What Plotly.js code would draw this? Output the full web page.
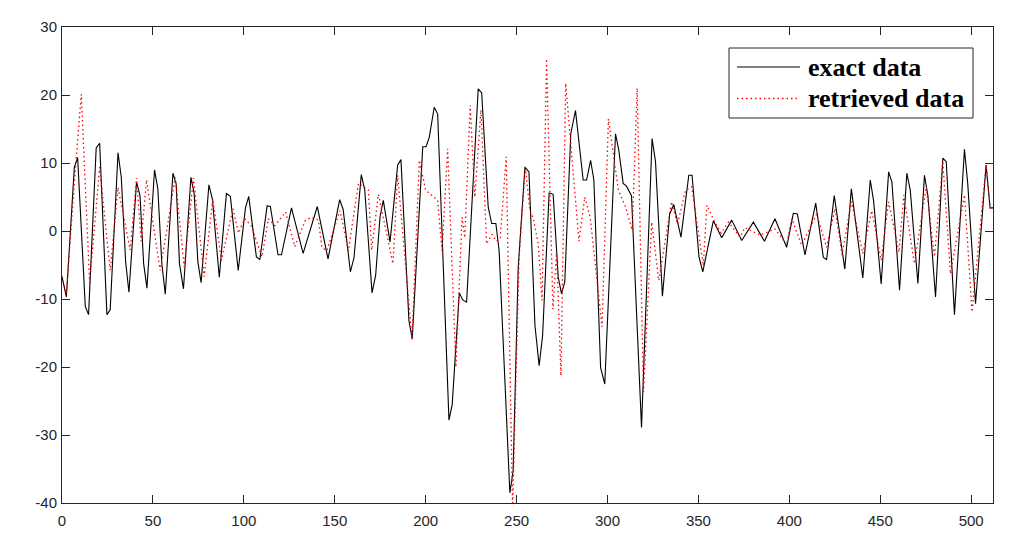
<!DOCTYPE html>
<html>
<head>
<meta charset="utf-8">
<script src="https://cdn.plot.ly/plotly-3.0.1.min.js"></script>
<style>
  html, body { margin: 0; padding: 0; background: #fff; }
  #chart { width: 1016px; height: 556px; }
</style>
</head>
<body>
<div id="chart"></div>
<script>
// ---- data ----
const exactX = [0,2.4,6.8,8.6,12.8,14.6,18.8,20.7,24.7,26.5,30.8,32.6,35.0,36.8,41.0,42.9,44.9,46.7,50.9,52.7,54.9,56.8,61.0,62.8,64.6,66.8,70.9,72.7,74.7,76.5,80.8,82.7,86.5,90.4,92.6,96.9,100.9,102.7,106.9,108.8,112.8,114.6,118.8,120.7,126.2,132.6,140.4,146.3,152.7,154.6,158.6,160.6,164.6,166.5,170.5,172.5,174.9,176.7,180.4,184.6,186.4,190.8,192.6,198.4,200.2,202.0,204.7,206.6,212.8,214.6,218.5,220.3,222.5,228.9,230.8,234.4,236.3,238.6,240.4,246.3,248.1,250.9,254.6,256.8,260.1,262.4,264.3,267.9,270.1,272.9,274.7,276.5,279.8,282.4,286.6,288.5,290.7,292.5,296.2,298.5,304.4,306.2,308.6,310.4,313.2,318.7,324.5,326.4,330.2,334.2,336.4,340.4,344.7,346.5,350.3,352.4,358.2,362.8,368.3,373.8,380.2,386.3,392.1,398.5,402.2,404.4,408.6,414.5,418.7,420.5,424.7,430.5,434.1,440.4,444.5,446.3,450.5,454.6,456.4,460.6,464.6,466.5,470.7,474.3,476.2,480.4,484.4,486.3,490.8,496.3,498.1,502.4,508.2,510.4,512];
const exactY = [-6.7,-9.7,9.4,10.8,-11.1,-12.3,12.2,12.9,-12.3,-11.6,11.5,7.9,-4.5,-9.0,7.2,5.2,-4.8,-8.4,9.0,6.2,-4.8,-9.3,8.5,6.9,-4.8,-8.5,7.9,5.5,-4.5,-7.6,6.8,4.7,-6.8,5.5,5.1,-5.8,3.4,5.1,-3.8,-4.2,3.7,3.6,-3.5,-3.5,3.4,-3.3,3.6,-4.1,4.6,3.2,-6.0,-3.9,8.3,6.0,-9.1,-6.5,2.1,4.5,-1.6,9.7,10.5,-13.2,-15.9,12.4,12.4,13.8,18.2,17.2,-27.8,-25.5,-9.1,-10.1,-10.5,20.9,20.3,3.5,1.1,1.1,-2.9,-38.5,-35.3,-5.3,9.4,8.7,-13.9,-19.8,-15.4,5.6,5.4,-6.8,-9.2,-7.5,14.3,17.7,7.5,7.5,10.4,7.5,-20.1,-22.5,14.3,11.9,7.0,6.6,5.2,-28.9,13.6,10.2,-9.6,2.5,3.9,-0.9,8.2,8.2,-3.8,-6.0,1.5,-1.0,1.6,-1.4,1.3,-1.5,1.8,-2.4,2.6,2.5,-3.5,4.1,-3.9,-4.2,5.2,-5.6,6.2,-6.9,7.5,4.5,-7.8,8.7,7.2,-8.7,8.5,6.0,-7.7,8.2,5.2,-9.7,10.7,10.2,-12.3,12.0,7.0,-10.7,9.7,3.4,3.4];

const retrievedX = [0,2.4,7.3,10.6,15.2,20.7,26.5,30.8,37.5,41.0,43.5,46.5,54.0,62.3,67.2,72.3,78.2,82.9,87.7,94.0,97.0,100.5,104.0,110.0,113.5,117.0,123.0,128.0,133.7,137.0,141.0,142.9,145.6,152.9,157.5,163.0,168.5,170.3,174.0,182.0,184.6,192.5,196.5,200.0,206.6,209.0,212.1,216.6,220.0,221.5,224.5,227.0,230.4,233.5,236.5,239.0,241.0,244.3,247.8,251.4,254.8,257.3,259.1,261.9,264.0,266.5,270.0,272.0,274.4,277.0,284.3,287.5,290.5,297.0,300.5,306.0,310.0,313.6,316.3,319.8,324.3,328.2,335.2,338.5,342.9,346.3,352.7,354.6,359.0,362.5,366.5,372.9,375.6,383.9,392.1,398.5,401.3,406.8,415.0,420.5,425.1,429.0,434.1,440.4,445.3,450.5,454.6,460.3,462.9,468.8,475.3,479.8,484.4,488.6,496.3,500.5,508.2,510.4,512];
const retrievedY = [-6.7,-9.2,8.9,20.1,-7.7,9.4,-5.8,6.4,-2.8,7.8,-1.5,7.5,-5.8,7.9,-5.3,7.8,-6.7,4.7,-4.3,3.3,-0.3,1.8,0.8,-3.8,1.8,0.8,2.8,-2.3,1.5,2.0,1.6,-2.4,-2.9,3.0,-2.9,7.0,6.0,-2.8,5.4,-4.8,8.2,-15.9,10.4,6.0,4.5,-3.0,12.1,-20.0,2.0,-1.0,18.5,5.0,17.8,-1.9,-0.5,-1.5,-1.0,10.9,-41,-3.8,9.5,3.0,2.0,-1.9,-10.2,25.3,-11.5,-3.0,-21.3,21.7,-1.5,5.0,2.0,-14.1,16.5,6.0,3.5,0.1,21.0,-23.7,1.3,-7.3,4.3,1.0,6.0,6.5,-5.1,3.8,1.3,-0.3,1.3,-0.9,0.5,-0.6,0.3,-2.0,1.8,-2.1,2.5,-2.4,3.3,-3.5,4.3,-3.3,3.0,-4.3,4.3,-3.1,5.3,-4.8,6.5,-3.8,10.2,-6.3,5.3,-11.9,9.7,3.4,3.4];

const xTicks = [0,50,100,150,200,250,300,350,400,450,500];
const yTicks = [-40,-30,-20,-10,0,10,20,30];
const seriesNames = ['exact data', 'retrieved data'];

// ---- layout helpers (pixel geometry of the axes box) ----
const L = 62, R = 993, T = 27, B = 503;
const W = 1016, H = 556;
const px = x => (x - L) / (R - L);
const py = y => (B - y) / (B - T);

const axColor = '#262626';
const axisCommon = {
  showline: true, linecolor: axColor, linewidth: 1,
  mirror: 'ticks', ticks: 'inside', ticklen: 8, tickwidth: 1, tickcolor: axColor,
  showgrid: false, zeroline: false,
  tickfont: {family: 'Liberation Sans, Arial, sans-serif', size: 15, color: axColor}
};

const traces = [
  {x: exactX, y: exactY, type: 'scatter', mode: 'lines', name: seriesNames[0],
   line: {color: '#000000', width: 1.1}, showlegend: false},
  {x: retrievedX, y: retrievedY, type: 'scatter', mode: 'lines', name: seriesNames[1],
   line: {color: '#ff0000', width: 1.3, dash: '1.5px,3px'}, showlegend: false}
];

const legFont = {family: 'Liberation Serif, Times New Roman, serif', size: 26, color: '#000'};
const layout = {
  width: W, height: H,
  margin: {l: L, r: W - R, t: T, b: H - B, pad: 0},
  paper_bgcolor: '#ffffff', plot_bgcolor: '#ffffff',
  showlegend: false,
  xaxis: Object.assign({}, axisCommon, {range: [0, 512], tickvals: xTicks, ticktext: xTicks.map(String), ticklabelstandoff: 4}),
  yaxis: Object.assign({}, axisCommon, {range: [-40, 30], tickvals: yTicks, ticktext: yTicks.map(String), ticklabelstandoff: 1}),
  shapes: [
    {type: 'rect', xref: 'paper', yref: 'paper', x0: px(729), x1: px(973), y0: py(118), y1: py(48),
     line: {color: axColor, width: 1}, fillcolor: '#ffffff', layer: 'above'},
    {type: 'line', xref: 'paper', yref: 'paper', x0: px(737), x1: px(800), y0: py(67), y1: py(67),
     line: {color: '#000000', width: 1.1}},
    {type: 'line', xref: 'paper', yref: 'paper', x0: px(737), x1: px(800), y0: py(98.5), y1: py(98.5),
     line: {color: '#ff0000', width: 1.3, dash: '1.5px,3px'}}
  ],
  annotations: [
    {xref: 'paper', yref: 'paper', x: px(806), y: py(67), xanchor: 'left', yanchor: 'middle',
     text: '<b>' + seriesNames[0] + '</b>', showarrow: false, font: legFont},
    {xref: 'paper', yref: 'paper', x: px(806), y: py(98.5), xanchor: 'left', yanchor: 'middle',
     text: '<b>' + seriesNames[1] + '</b>', showarrow: false, font: legFont}
  ]
};

Plotly.newPlot('chart', traces, layout, {displayModeBar: false, staticPlot: true});
</script>
</body>
</html>
